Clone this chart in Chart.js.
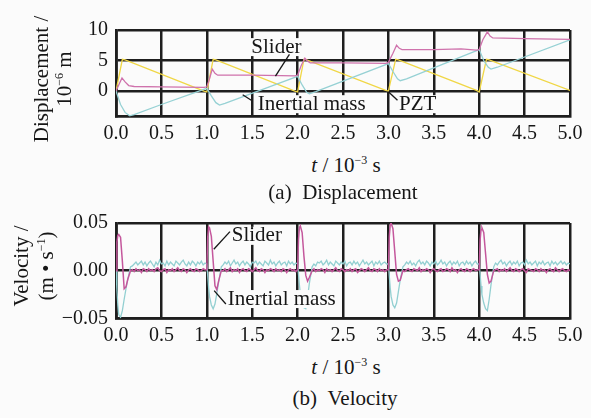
<!DOCTYPE html>
<html>
<head>
<meta charset="utf-8">
<script src="https://cdn.jsdelivr.net/npm/chart.js@4.4.0/dist/chart.umd.min.js"></script>
<style>
body { margin: 0; background: #fbfbfb; font-family: "Liberation Serif", "Times New Roman", serif; color: #161616; }
#wrap { position: relative; width: 591px; height: 418px; overflow: hidden; }
canvas { position: absolute; left: 0; }
.lbl { position: absolute; font-size: 21px; white-space: nowrap; transform: translate(-50%, -50%); line-height: 24px; }
.rot { text-align: center; transform: translate(-50%, -50%) rotate(-90deg); }
sup { font-size: 12px; vertical-align: 8px; line-height: 0; }
</style>
</head>
<body>
<div id="wrap">
  <canvas id="disp" width="591" height="148" style="top:0"></canvas>
  <canvas id="vel" width="591" height="150" style="top:200px"></canvas>

  <div class="lbl rot" style="left:53px; top:79px; line-height:23px">Displacement /<br>10<sup>−6</sup> m</div>
  <div class="lbl" style="left:346px; top:165px"><i>t</i> / 10<sup>−3</sup> s</div>
  <div class="lbl" style="left:343px; top:192px">(a)&nbsp;&nbsp;Displacement</div>

  <div class="lbl rot" style="left:34px; top:266px; line-height:25px">Velocity /<br>(m • s<sup>−1</sup>)</div>
  <div class="lbl" style="left:346px; top:367px"><i>t</i> / 10<sup>−3</sup> s</div>
  <div class="lbl" style="left:345px; top:398px">(b)&nbsp;&nbsp;Velocity</div>
</div>
<script>
"use strict";

// (a) displacement, 10^-6 m against t in ms
var pztTime = [0, 0.07, 0.10, 0.97, 1.00, 1.07, 1.10, 1.97, 2.00, 2.07, 2.10, 2.97, 3.00, 3.08, 3.11, 3.97, 4.00, 4.08, 4.11, 5.00];
var pztDisp = [0, 5.2, 5.1, 0.0, -0.15, 5.2, 5.1, 0.0, -0.15, 5.2, 5.1, 0.1, 0.0, 5.2, 5.1, 0.1, -0.15, 5.2, 5.1, 0.1];

var sliderTime = [0, 0.03, 0.066, 0.10, 0.14, 0.20, 0.50, 0.97,
	1.00, 1.03, 1.06, 1.09, 1.12, 1.50, 1.97,
	2.00, 2.04, 2.08, 2.11, 2.14, 2.50, 2.97,
	3.00, 3.05, 3.09, 3.12, 3.15, 3.50, 3.80, 3.97,
	4.00, 4.04, 4.09, 4.12, 4.15, 4.50, 5.00];
var sliderDisp = [0, 1.0, 2.15, 1.5, 0.9, 0.75, 0.7, 0.6,
	0.7, 2.0, 3.6, 2.9, 2.6, 2.6, 2.5,
	2.6, 4.2, 5.4, 4.9, 4.6, 4.6, 4.55,
	4.7, 6.2, 7.5, 7.0, 6.8, 6.8, 6.9, 6.7,
	6.8, 8.4, 9.7, 9.0, 8.7, 8.6, 8.45];

var massTime = [0, 0.05, 0.10, 0.15, 0.20, 0.50, 1.00,
	1.05, 1.10, 1.14, 1.20, 1.60, 2.00,
	2.05, 2.10, 2.13, 2.20, 3.00,
	3.05, 3.10, 3.13, 3.20, 3.80, 4.00,
	4.05, 4.10, 4.13, 4.20, 5.00];
var massDisp = [0, -2.2, -3.5, -4.05, -3.85, -2.2, 0.45,
	-0.8, -1.9, -2.3, -2.0, 0.2, 2.4,
	1.0, -0.2, -0.45, -0.1, 4.5,
	3.2, 2.0, 1.7, 2.0, 5.6, 6.8,
	5.0, 3.9, 3.6, 3.9, 8.4];

var dispTicks = [0, 5, 10];

// (b) velocity, m/s against t in ms
var velTime = [
	0, 0.01, 0.02, 0.03, 0.05, 0.07, 0.09, 0.11, 0.13, 0.16,
	0.18, 0.20, 0.22, 0.24, 0.26, 0.28, 0.30, 0.32, 0.34, 0.36, 0.38, 0.40, 0.42, 0.44, 0.46, 0.48, 0.50, 0.52, 0.54, 0.56,
	0.58, 0.60, 0.62, 0.64, 0.66, 0.68, 0.70, 0.72, 0.74, 0.76, 0.78, 0.80, 0.82, 0.84, 0.86, 0.88, 0.90, 0.92, 0.94, 0.96, 0.98,
	1.00, 1.01, 1.02, 1.03, 1.05, 1.07, 1.09, 1.11, 1.13, 1.16,
	1.18, 1.20, 1.22, 1.24, 1.26, 1.28, 1.30, 1.32, 1.34, 1.36, 1.38, 1.40, 1.42, 1.44, 1.46, 1.48, 1.50, 1.52, 1.54, 1.56,
	1.58, 1.60, 1.62, 1.64, 1.66, 1.68, 1.70, 1.72, 1.74, 1.76, 1.78, 1.80, 1.82, 1.84, 1.86, 1.88, 1.90, 1.92, 1.94, 1.96, 1.98,
	2.00, 2.01, 2.02, 2.03, 2.05, 2.07, 2.09, 2.11, 2.13, 2.16,
	2.18, 2.20, 2.22, 2.24, 2.26, 2.28, 2.30, 2.32, 2.34, 2.36, 2.38, 2.40, 2.42, 2.44, 2.46, 2.48, 2.50, 2.52, 2.54, 2.56,
	2.58, 2.60, 2.62, 2.64, 2.66, 2.68, 2.70, 2.72, 2.74, 2.76, 2.78, 2.80, 2.82, 2.84, 2.86, 2.88, 2.90, 2.92, 2.94, 2.96, 2.98,
	3.00, 3.01, 3.02, 3.03, 3.05, 3.07, 3.09, 3.11, 3.13, 3.16,
	3.18, 3.20, 3.22, 3.24, 3.26, 3.28, 3.30, 3.32, 3.34, 3.36, 3.38, 3.40, 3.42, 3.44, 3.46, 3.48, 3.50, 3.52, 3.54, 3.56,
	3.58, 3.60, 3.62, 3.64, 3.66, 3.68, 3.70, 3.72, 3.74, 3.76, 3.78, 3.80, 3.82, 3.84, 3.86, 3.88, 3.90, 3.92, 3.94, 3.96, 3.98,
	4.00, 4.01, 4.02, 4.03, 4.05, 4.07, 4.09, 4.11, 4.13, 4.16,
	4.18, 4.20, 4.22, 4.24, 4.26, 4.28, 4.30, 4.32, 4.34, 4.36, 4.38, 4.40, 4.42, 4.44, 4.46, 4.48, 4.50, 4.52, 4.54, 4.56,
	4.58, 4.60, 4.62, 4.64, 4.66, 4.68, 4.70, 4.72, 4.74, 4.76, 4.78, 4.80, 4.82, 4.84, 4.86, 4.88, 4.90, 4.92, 4.94, 4.96, 4.98,
	5.00];
var velSlider = [
	0, .030, .037, .038, .035, .010, -.019, -.017, -.009, .000,
	.001, -.001, .002, .000, .001, -.002, .002, .001, -.001, .002, .000, .001, -.001, .002, .003, .000, -.001, .001, .002, -.002,
	.001, .000, .002, -.001, .001, .003, .000, -.001, .002, .001, -.002, .001, .002, .000, -.001, .002, .001, -.001, .000, .002, .001,
	.001, .035, .046, .045, .036, .010, -.016, -.020, -.011, .000,
	.000, .002, -.001, .001, .003, -.001, .001, .000, .002, -.002, .001, .002, .000, -.001, .002, .001, -.001, .001, .003, .000,
	-.001, .002, .001, -.002, .001, .000, .002, .001, -.001, .002, .000, .001, -.001, .002, .001, -.002, .001, .002, .000, .001, -.001,
	.001, .033, .045, .047, .040, .015, -.005, -.011, -.007, .000,
	.002, -.001, .001, .000, .002, .001, -.002, .002, .000, .001, -.001, .001, .003, .000, -.001, .002, .001, -.001, .001, .000,
	.002, -.001, .001, .002, -.002, .000, .002, .001, -.001, .001, .003, .000, -.001, .002, .001, -.001, .002, .000, .001, -.001, .001,
	.001, .036, .048, .050, .044, .020, -.004, -.011, -.010, .000,
	-.001, .001, .002, .000, -.001, .002, .001, .000, .003, -.001, .001, .000, .002, .001, -.002, .001, .002, .000, -.001, .001,
	.002, -.001, .000, .002, .001, -.001, .003, .000, .001, -.002, .001, .002, .000, -.001, .002, .001, -.001, .001, .002, .000, .001,
	.001, .032, .043, .045, .040, .018, -.004, -.013, -.011, .000,
	.001, .002, -.001, .001, .000, .002, -.001, .001, .003, .000, -.001, .002, .001, -.001, .001, .002, .000, -.002, .002, .001,
	.000, -.001, .002, .001, -.001, .002, .000, .001, -.002, .001, .002, .000, -.001, .003, .001, -.001, .001, .002, .000, -.001, .001,
	.000];
var velMass = [
	0, -.020, -.036, -.046, -.049, -.042, -.030, -.019, -.009, .004,
	.005, .007, .009, .006, .008, .010, .006, .009, .005, .008, .010, .007, .004, .009, .006, .011, .007, .008, .005, .010,
	.006, .009, .007, .005, .010, .008, .006, .009, .011, .007, .005, .009, .006, .010, .008, .005, .009, .007, .010, .006, .008,
	.007, -.005, -.018, -.027, -.036, -.040, -.035, -.024, -.012, .004,
	.006, .009, .007, .010, .005, .008, .011, .007, .009, .005, .008, .010, .006, .009, .007, .004, .009, .008, .010, .006,
	.009, .007, .005, .010, .008, .006, .011, .007, .009, .005, .008, .010, .006, .008, .009, .005, .010, .007, .009, .006, .008,
	.007, -.004, -.015, -.024, -.034, -.039, -.040, -.028, -.013, .004,
	.007, .005, .009, .008, .010, .006, .008, .011, .006, .009, .007, .005, .010, .008, .006, .009, .007, .010, .005, .008,
	.009, .006, .010, .007, .009, .005, .008, .011, .007, .009, .006, .008, .010, .005, .009, .007, .010, .006, .008, .009, .007,
	.007, -.006, -.018, -.027, -.036, -.039, -.034, -.022, -.010, .004,
	.006, .009, .007, .010, .006, .008, .005, .009, .011, .007, .009, .006, .010, .008, .005, .009, .007, .010, .006, .008,
	.011, .007, .009, .005, .008, .010, .006, .009, .007, .010, .005, .008, .009, .006, .010, .007, .009, .005, .008, .010, .007,
	.007, -.004, -.016, -.025, -.034, -.040, -.042, -.030, -.015, .004,
	.008, .006, .009, .011, .007, .009, .005, .008, .010, .006, .009, .007, .010, .005, .008, .009, .006, .011, .007, .009,
	.006, .008, .010, .005, .009, .007, .010, .006, .008, .009, .005, .010, .007, .009, .006, .008, .010, .007, .009, .006, .008,
	.007];
var velTicks = [-0.05, 0, 0.05];

var timeMin = 0, timeMax = 5, timeStep = 0.5;

// labels with leader lines, placed in data units
var dispNotes = [
	{ text: 'Slider', at: [1.49, 7.2], line: [1.91, 6.0, 1.756, 2.45] },
	{ text: 'Inertial mass', at: [1.562, -2.15], line: [1.395, -0.6, 1.49, -1.5] },
	{ text: 'PZT', at: [3.117, -2.15], line: [3.0, -0.1, 3.10, -1.5] }
];
var velNotes = [
	{ text: 'Slider', at: [1.275, 0.0365], line: [1.255, 0.041, 1.077, 0.0225] },
	{ text: 'Inertial mass', at: [1.232, -0.0298], line: [1.081, -0.021, 1.21, -0.035] }
];

var ink = '#161616';
var gridInk = '#1e1e1e';
var serif = '"Liberation Serif", "Times New Roman", serif';
var tickFont = { family: serif, size: 20 };

function pts(xs, ys) {
	var out = [];
	for (var i = 0; i < xs.length; i++) out.push({ x: xs[i], y: ys[i] });
	return out;
}

var calloutPlugin = {
	id: 'callouts',
	afterDatasetsDraw: function (chart, args, opts) {
		var ctx = chart.ctx, sx = chart.scales.x, sy = chart.scales.y;
		ctx.save();
		ctx.lineWidth = 1.3;
		ctx.font = '21px ' + serif;
		ctx.textBaseline = 'middle';
		(opts.items || []).forEach(function (c) {
			var tx = sx.getPixelForValue(c.at[0]), ty = sy.getPixelForValue(c.at[1]);
			var w = ctx.measureText(c.text).width;
			// knock the grid out behind the words
			ctx.fillStyle = '#fbfbfb';
			ctx.fillRect(tx - 1, ty - 9, w + 2, 18);
			ctx.strokeStyle = ink;
			ctx.beginPath();
			ctx.moveTo(sx.getPixelForValue(c.line[0]), sy.getPixelForValue(c.line[1]));
			ctx.lineTo(sx.getPixelForValue(c.line[2]), sy.getPixelForValue(c.line[3]));
			ctx.stroke();
			ctx.fillStyle = ink;
			ctx.fillText(c.text, tx, ty);
		});
		ctx.restore();
	}
};

function timeAxis(canvasH, plotBottom) {
	return {
		type: 'linear', min: timeMin, max: timeMax,
		afterFit: function (s) { s.height = canvasH - plotBottom; },
		ticks: { stepSize: timeStep, autoSkip: false, maxRotation: 0, padding: 5, font: tickFont, color: ink,
			callback: function (v) { return v.toFixed(1); } },
		grid: { color: gridInk, lineWidth: 2.5, drawTicks: false },
		border: { color: gridInk, width: 2.8 }
	};
}

function valueAxis(min, max, ticks, fmt) {
	return {
		min: min, max: max,
		afterFit: function (s) { s.width = 116; },
		afterBuildTicks: function (s) { s.ticks = ticks.map(function (v) { return { value: v }; }); },
		ticks: { padding: 8, font: tickFont, color: ink, callback: fmt },
		grid: { color: gridInk, lineWidth: 2.5, drawTicks: false },
		border: { color: gridInk, width: 2.8 }
	};
}

var baseOptions = function (padTop, notes, xAxis, yAxis, lineW) {
	return {
		responsive: false,
		animation: false,
		layout: { padding: { top: padTop, right: 21, left: 0, bottom: 0 } },
		elements: { point: { radius: 0 }, line: { borderWidth: lineW, tension: 0 } },
		plugins: { legend: { display: false }, tooltip: { enabled: false }, callouts: { items: notes } },
		scales: { x: xAxis, y: yAxis }
	};
};

new Chart(document.getElementById('disp'), {
	type: 'line',
	data: {
		datasets: [
			{ label: 'Slider', data: pts(sliderTime, sliderDisp), borderColor: '#cf72ac' },
			{ label: 'Inertial mass', data: pts(massTime, massDisp), borderColor: '#96d1d4' },
			{ label: 'PZT', data: pts(pztTime, pztDisp), borderColor: '#f0d746' }
		]
	},
	options: baseOptions(30, dispNotes, timeAxis(148, 116.7),
		valueAxis(-4.2, 10, dispTicks, function (v) { return String(v); }), 1.3),
	plugins: [calloutPlugin]
});

new Chart(document.getElementById('vel'), {
	type: 'line',
	data: {
		datasets: [
			{ label: 'Slider', data: pts(velTime, velSlider), borderColor: '#c4579c', borderWidth: 1.5 },
			{ label: 'Inertial mass', data: pts(velTime, velMass), borderColor: '#92cfd1', borderWidth: 1.3 }
		]
	},
	options: baseOptions(23, velNotes, timeAxis(150, 118.3),
		valueAxis(-0.05, 0.05, velTicks, function (v) { return (v < 0 ? '−' : '') + Math.abs(v).toFixed(2); }), 1.3),
	plugins: [calloutPlugin]
});
</script>
</body>
</html>
